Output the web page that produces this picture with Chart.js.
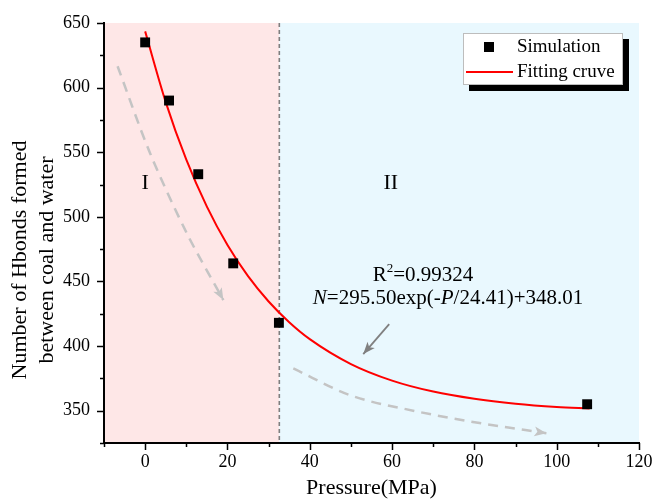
<!DOCTYPE html>
<html>
<head>
<meta charset="utf-8">
<script src="https://cdn.jsdelivr.net/npm/chart.js@4"></script>
<style>
  html, body { margin: 0; padding: 0; background: #ffffff; }
  #chart { display: block; }
</style>
</head>
<body>
<canvas id="chart" width="654" height="501"></canvas>
<script>
// simulation points
const simPressure = [0, 5.8, 12.9, 21.4, 32.5, 107.4];
const simHbonds = [635, 590, 533, 464, 418, 355];

// fitted curve
const fitPressure = [0, 5, 10, 15, 20, 25, 30, 35, 40, 50, 60, 70, 80, 90, 100, 108];
const fitHbonds = [643.5, 588.8, 544.2, 507.9, 478.2, 454.1, 434.5, 418.5, 405.4, 386.1, 373.3, 364.8, 359.2, 355.4, 352.9, 351.6];

// guide arrows
const arrow1Pressure = [-6.7, 1.2, 10.1, 19.0];
const arrow1Hbonds = [616.5, 549.2, 487.4, 435.6];
const arrow2Pressure = [36.0, 49.8, 65.9, 82.1, 97.5];
const arrow2Hbonds = [382.7, 362.0, 349.5, 340.0, 332.6];
const arrow3Pressure = [59.3, 53.0];
const arrow3Hbonds = [417, 393.8];

const regionBoundary = 32.6;
const xTickValues = [0, 20, 40, 60, 80, 100, 120];
const yTickValues = [350, 400, 450, 500, 550, 600, 650];

const seriesLabels = ['Simulation', 'Fitting cruve'];
const xTitle = 'Pressure(MPa)';
const yTitle = ['Number of Hbonds formed', 'between coal and water'];
const regionLabels = ['I', 'II'];
const r2Value = '=0.99324';
const fitEquation = [['N', true], ['=295.50exp(-', false], ['P', true], ['/24.41)+348.01', false]];

const FONT = "'Liberation Serif', 'Times New Roman', serif";
Chart.defaults.font.family = FONT;

function toPoints(xs, ys) {
    return xs.map((x, i) => ({ x: x, y: ys[i] }));
}

function drawHead(ctx, chart, xs, ys, size, color) {
    const sx = chart.scales.x, sy = chart.scales.y;
    const n = xs.length;
    const x1 = sx.getPixelForValue(xs[n - 2]), y1 = sy.getPixelForValue(ys[n - 2]);
    const x2 = sx.getPixelForValue(xs[n - 1]), y2 = sy.getPixelForValue(ys[n - 1]);
    const a = Math.atan2(y2 - y1, x2 - x1);
    ctx.save();
    ctx.fillStyle = color;
    ctx.beginPath();
    ctx.moveTo(x2, y2);
    ctx.lineTo(x2 - size * Math.cos(a - 0.38), y2 - size * Math.sin(a - 0.38));
    ctx.lineTo(x2 - size * 0.7 * Math.cos(a), y2 - size * 0.7 * Math.sin(a));
    ctx.lineTo(x2 - size * Math.cos(a + 0.38), y2 - size * Math.sin(a + 0.38));
    ctx.closePath();
    ctx.fill();
    ctx.restore();
}

const decorPlugin = {
    id: 'decor',
    beforeDraw(chart) {
        const ctx = chart.ctx;
        const area = chart.chartArea;
        const xb = chart.scales.x.getPixelForValue(regionBoundary);
        ctx.save();
        ctx.fillStyle = '#fee7e7';
        ctx.fillRect(area.left, area.top, xb - area.left, area.bottom - area.top);
        ctx.fillStyle = '#e9f8fe';
        ctx.fillRect(xb, area.top, area.right - xb, area.bottom - area.top);
        ctx.strokeStyle = '#7f7f7f';
        ctx.lineWidth = 1.6;
        ctx.setLineDash([4, 3]);
        ctx.beginPath();
        ctx.moveTo(xb, area.top);
        ctx.lineTo(xb, area.bottom);
        ctx.stroke();
        ctx.restore();
    },
    afterDatasetsDraw(chart) {
        const ctx = chart.ctx;
        const sx = chart.scales.x, sy = chart.scales.y;
        drawHead(ctx, chart, arrow1Pressure, arrow1Hbonds, 13, '#c4c4c4');
        drawHead(ctx, chart, arrow2Pressure, arrow2Hbonds, 13, '#c4c4c4');
        drawHead(ctx, chart, arrow3Pressure, arrow3Hbonds, 13, '#808080');

        ctx.save();
        ctx.fillStyle = '#000';
        ctx.textBaseline = 'middle';
        ctx.textAlign = 'center';
        ctx.font = '22px ' + FONT;
        ctx.fillText(regionLabels[0], sx.getPixelForValue(0), sy.getPixelForValue(526));
        ctx.fillText(regionLabels[1], sx.getPixelForValue(59.7), sy.getPixelForValue(526));

        // R^2 line
        ctx.textAlign = 'left';
        ctx.font = '21px ' + FONT;
        const wR = ctx.measureText('R').width;
        ctx.font = '13px ' + FONT;
        const w2 = ctx.measureText('2').width;
        ctx.font = '21px ' + FONT;
        const wV = ctx.measureText(r2Value).width;
        let cx = sx.getPixelForValue(67.5) - (wR + w2 + wV) / 2;
        const ry = sy.getPixelForValue(454.7);
        ctx.fillText('R', cx, ry);
        ctx.font = '13px ' + FONT;
        ctx.fillText('2', cx + wR, ry - 7);
        ctx.font = '21px ' + FONT;
        ctx.fillText(r2Value, cx + wR + w2, ry);

        // fitted equation
        let total = 0;
        fitEquation.forEach(([t, it]) => {
            ctx.font = (it ? 'italic ' : '') + '21px ' + FONT;
            total += ctx.measureText(t).width;
        });
        cx = sx.getPixelForValue(73.6) - total / 2;
        const ey = sy.getPixelForValue(437);
        fitEquation.forEach(([t, it]) => {
            ctx.font = (it ? 'italic ' : '') + '21px ' + FONT;
            ctx.fillText(t, cx, ey);
            cx += ctx.measureText(t).width;
        });
        ctx.restore();
    },
    afterDraw(chart) {
        const ctx = chart.ctx;
        const sx = chart.scales.x, sy = chart.scales.y;
        const area = chart.chartArea;
        ctx.save();
        ctx.strokeStyle = '#000';
        ctx.lineWidth = 1.5;
        ctx.beginPath();
        for (let v = -10; v <= 120; v += 10) {
            const px = Math.round(sx.getPixelForValue(v)) + 0.5;
            const len = v % 20 === 0 ? 7 : 4;
            ctx.moveTo(px, area.bottom);
            ctx.lineTo(px, area.bottom + len);
        }
        for (let v = 325; v <= 650; v += 25) {
            const py = Math.round(sy.getPixelForValue(v)) + 0.5;
            const len = v % 50 === 0 ? 7 : 4;
            ctx.moveTo(area.left, py);
            ctx.lineTo(area.left - len, py);
        }
        ctx.stroke();

        // y axis title
        ctx.fillStyle = '#000';
        ctx.font = '22px ' + FONT;
        ctx.textAlign = 'center';
        ctx.textBaseline = 'middle';
        ctx.translate(20, 260);
        ctx.rotate(-Math.PI / 2);
        ctx.fillText(yTitle[0], 0, 0);
        ctx.fillText(yTitle[1], 0, 27);
        ctx.restore();

        // legend
        ctx.save();
        const bx = 463, by = 33, bw = 160, bh = 52;
        ctx.fillStyle = '#000';
        ctx.fillRect(bx + 6, by + 6, bw, bh);
        ctx.fillStyle = '#fff';
        ctx.fillRect(bx, by, bw, bh);
        ctx.strokeStyle = '#bdbdbd';
        ctx.lineWidth = 1;
        ctx.strokeRect(bx + 0.5, by + 0.5, bw - 1, bh - 1);
        ctx.fillStyle = '#000';
        ctx.fillRect(484, 42, 10, 10);
        ctx.strokeStyle = '#ff0000';
        ctx.lineWidth = 2;
        ctx.beginPath();
        ctx.moveTo(466, 72);
        ctx.lineTo(513, 72);
        ctx.stroke();
        ctx.fillStyle = '#000';
        ctx.font = '19px ' + FONT;
        ctx.textAlign = 'left';
        ctx.textBaseline = 'middle';
        ctx.fillText(seriesLabels[0], 517, 47);
        ctx.fillText(seriesLabels[1], 517, 72);
        ctx.restore();
    }
};

new Chart(document.getElementById('chart'), {
    type: 'scatter',
    data: {
        datasets: [
            {
                label: seriesLabels[0],
                data: toPoints(simPressure, simHbonds),
                showLine: false,
                pointStyle: 'rect',
                pointRadius: 7,
                pointBorderWidth: 0,
                backgroundColor: '#000',
                borderColor: '#000',
                order: 0
            },
            {
                label: seriesLabels[1],
                data: toPoints(fitPressure, fitHbonds),
                showLine: true,
                borderColor: '#ff0000',
                borderWidth: 2,
                pointRadius: 0,
                cubicInterpolationMode: 'monotone',
                order: 1
            },
            {
                label: 'arrow1',
                data: toPoints(arrow1Pressure, arrow1Hbonds),
                showLine: true,
                borderColor: '#c4c4c4',
                borderWidth: 2.5,
                borderDash: [10, 7],
                pointRadius: 0,
                tension: 0.3,
                order: 2
            },
            {
                label: 'arrow2',
                data: toPoints(arrow2Pressure, arrow2Hbonds),
                showLine: true,
                borderColor: '#c4c4c4',
                borderWidth: 2.5,
                borderDash: [10, 7],
                pointRadius: 0,
                cubicInterpolationMode: 'monotone',
                order: 2
            },
            {
                label: 'arrow3',
                data: toPoints(arrow3Pressure, arrow3Hbonds),
                showLine: true,
                borderColor: '#808080',
                borderWidth: 1.8,
                pointRadius: 0,
                order: 2
            }
        ]
    },
    options: {
        responsive: false,
        animation: false,
        devicePixelRatio: 1,
        layout: { padding: { top: 23, right: 15, left: 0, bottom: 0 } },
        plugins: {
            legend: { display: false },
            tooltip: { enabled: false }
        },
        scales: {
            x: {
                type: 'linear',
                min: -10,
                max: 120,
                afterBuildTicks: s => { s.ticks = xTickValues.map(v => ({ value: v })); },
                afterFit: s => { s.height = 58; s.paddingLeft = 0; s.paddingRight = 0; },
                grid: { display: false, drawTicks: false },
                border: { display: true, color: '#000', width: 2 },
                ticks: { color: '#000', padding: 8, font: { family: FONT, size: 18 } },
                title: {
                    display: true,
                    text: xTitle,
                    color: '#000',
                    padding: { top: 0, bottom: 0 },
                    font: { family: FONT, size: 22 }
                }
            },
            y: {
                type: 'linear',
                min: 325,
                max: 650,
                afterBuildTicks: s => { s.ticks = yTickValues.map(v => ({ value: v })); },
                afterFit: s => { s.width = 104; s.paddingTop = 0; s.paddingBottom = 0; },
                grid: { display: false, drawTicks: false },
                border: { display: true, color: '#000', width: 2 },
                ticks: { color: '#000', padding: 14, font: { family: FONT, size: 18 } }
            }
        }
    },
    plugins: [decorPlugin]
});
</script>
</body>
</html>
